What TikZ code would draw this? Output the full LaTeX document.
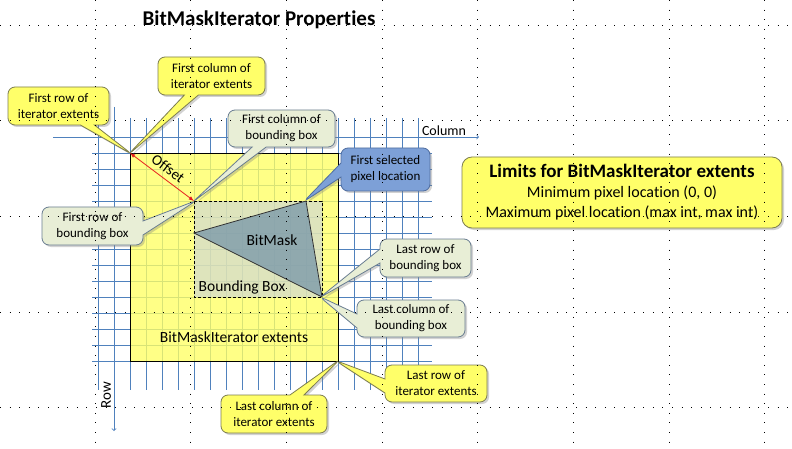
\documentclass[tikz,border=0pt]{standalone}
\usepackage{fontspec}
\setmainfont{Carlito}[Ligatures=NoCommon]
\usetikzlibrary{arrows,shapes.callouts,shadows}
\definecolor{gridblue}{RGB}{79,129,189}
\definecolor{extyellow}{RGB}{255,255,100}
\definecolor{tipyellow}{RGB}{255,255,105}
\definecolor{tipyellowline}{RGB}{125,125,80}
\definecolor{tipgreen}{RGB}{232,238,214}
\definecolor{tipgreenline}{RGB}{105,125,145}
\definecolor{tipblue}{RGB}{125,160,215}
\definecolor{tipblueline}{RGB}{80,110,160}
\definecolor{bboxfill}{RGB}{200,210,224}
\definecolor{maskfill}{RGB}{112,145,169}
\definecolor{offsetred}{RGB}{230,30,30}

\begin{document}
\begin{tikzpicture}[x=1pt,y=-1pt,
gridline/.style={gridblue,line width=0.8pt},
axisline/.style={gridblue,line width=0.8pt,->},
gridpoint/.style={black,line width=0.9pt,dash pattern=on 0.9pt off 8.7pt},
tip/.style={rectangle callout,rounded corners=7pt,align=center,inner sep=1pt,
  font=\fontsize{13}{16}\selectfont,callout pointer width=14pt,callout pointer shorten=-3pt,
  line width=0.8pt,drop shadow={opacity=0.35,shadow xshift=2pt,shadow yshift=-2pt}},
tipy/.style={tip,fill=tipyellow,draw=tipyellowline},
tipg/.style={tip,fill=tipgreen,draw=tipgreenline},
tipb/.style={tip,fill=tipblue,draw=tipblueline},
inlabel/.style={font=\fontsize{15.5}{17}\selectfont}]

\fill[white] (0,0) rectangle (792,449);
\useasboundingbox (0,0) rectangle (792,449);

\foreach \i in {-2,0,1,...,18}
{
\draw[gridline] ({130+16*\i},118) -- ({130+16*\i},390);
}
\foreach \j in {0,1,...,13}
{
\draw[gridline] (92,{153+16*\j}) -- (432,{153+16*\j});
}

\coordinate (colStart) at (53,137);
\coordinate (colEnd) at (479,137);
\coordinate (rowStart) at (114,107);
\coordinate (rowEnd) at (114,431);
\draw[axisline] (colStart) -- (colEnd);
\draw[axisline] (rowStart) -- (rowEnd);
\node[font=\fontsize{14}{16}\selectfont] (colLabel) at (444,131) {Column};
\node[font=\fontsize{15}{16}\selectfont,rotate=90] (rowLabel) at (106,395) {Row};

\coordinate (itTL) at (130,153);
\coordinate (itBR) at (338,361);
\coordinate (bbTL) at (194,201);
\coordinate (bbBR) at (322,297);
\coordinate (maskA) at (194,233);
\coordinate (maskB) at (306,201);

\fill[extyellow,fill opacity=0.78] (itTL) rectangle (itBR);
\draw[black,line width=0.8pt] (itTL) rectangle (itBR);
\fill[bboxfill,fill opacity=0.6] (bbTL) rectangle (bbBR);
\draw[black,line width=0.8pt,dash pattern=on 3pt off 2pt] (bbTL) rectangle (bbBR);
\filldraw[fill=maskfill,fill opacity=0.7,draw=black!80,line width=0.8pt] (maskA) -- (maskB) -- (bbBR) -- cycle;

\node[inlabel] (maskLabel) at (272,240) {BitMask};
\node[inlabel] (bbLabel) at (242,287) {Bounding Box};
\node[inlabel] (itLabel) at (234,337) {BitMaskIterator extents};

\draw[offsetred,line width=0.8pt,latex-latex] (itTL) -- node[sloped,above=1.5pt,black,font=\fontsize{15}{17}\selectfont] {Offset} (bbTL);

\node[font=\fontsize{21}{24}\selectfont\bfseries] (title) at (259,20) {BitMaskIterator Properties};

\node[tipy,minimum width=107pt,minimum height=38pt,callout absolute pointer={(itTL)}] (fcIt) at (211.5,76) {First column of\\iterator extents};
\node[tipy,minimum width=101pt,minimum height=38pt,callout absolute pointer={(itTL)}] (frIt) at (58.5,106) {First row of\\iterator extents};
\node[tipg,minimum width=107pt,minimum height=37pt,callout absolute pointer={(bbTL)}] (fcBb) at (281.5,128.5) {First column of\\bounding box};
\node[tipg,minimum width=101pt,minimum height=38pt,callout absolute pointer={(bbTL)}] (frBb) at (92.5,226) {First row of\\bounding box};
\node[tipb,minimum width=89pt,minimum height=43pt,callout absolute pointer={(maskB)}] (fsPx) at (385.5,169.5) {First selected\\pixel location};
\node[tipg,minimum width=91pt,minimum height=38pt,callout absolute pointer={(bbBR)}] (lrBb) at (425.5,258) {Last row of\\bounding box};
\node[tipg,minimum width=108pt,minimum height=37pt,callout absolute pointer={(bbBR)}] (lcBb) at (411,318.5) {Last column of\\bounding box};
\node[tipy,minimum width=102pt,minimum height=37pt,callout absolute pointer={(itBR)}] (lrIt) at (436,383.5) {Last row of\\iterator extents};
\node[tipy,minimum width=106pt,minimum height=38pt,callout absolute pointer={(itBR)}] (lcIt) at (274,414) {Last column of\\iterator extents};

\node[rectangle,rounded corners=10pt,fill=tipyellow,draw=tipyellowline,line width=0.8pt,
  minimum width=320pt,minimum height=71pt,align=center,font=\fontsize{16}{20}\selectfont,
  drop shadow={opacity=0.35,shadow xshift=2pt,shadow yshift=-2pt}] (limits) at (622,192.5)
  {{\fontsize{19}{21}\selectfont\bfseries Limits for BitMaskIterator extents}\\Minimum pixel location (0, 0)\\Maximum pixel location (max int, max int)};

\foreach \x in {0,1,...,7}
{
\draw[gridpoint] ({95+95.7*\x},0) -- ({95+95.7*\x},449);
}
\foreach \y in {0,1,...,4}
{
\draw[gridpoint] (0,{25+95.7*\y}) -- (792,{25+95.7*\y});
}
\end{tikzpicture}
\end{document}
